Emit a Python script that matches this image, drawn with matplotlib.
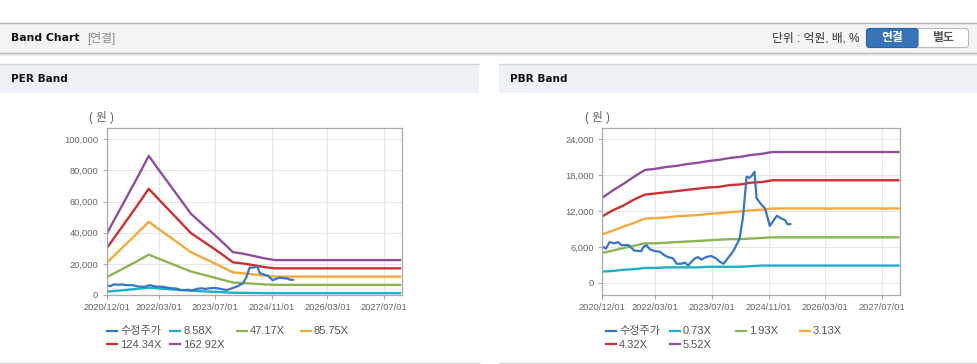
import matplotlib
matplotlib.use('Agg')
import matplotlib.pyplot as plt
import matplotlib.ticker as mticker
from matplotlib.patches import Rectangle, FancyBboxPatch
import numpy as np
import pandas as pd

plt.rcParams['font.family'] = ['Liberation Sans', 'Noto Sans CJK KR']

# ---- data ----
band_dates = ['2020-12-01', '2021-03-01', '2021-06-01', '2021-09-01', '2021-12-01',
              '2022-03-01', '2022-06-01', '2022-09-01', '2022-12-01', '2023-03-01',
              '2023-06-01', '2023-09-01', '2023-12-01', '2024-03-01', '2024-06-01',
              '2024-09-01', '2024-12-01', '2027-12-01']

per_labels = ['수정주가', '8.58X', '47.17X', '85.75X', '124.34X', '162.92X']
per_858 = [2100, 2700, 3400, 4000, 4700, 4200, 3700, 3200, 2800, 2400, 2100, 1800,
           1400, 1400, 1300, 1200, 1200, 1200]
per_4717 = [11400, 14900, 18500, 22100, 25900, 23200, 20500, 17800, 15100, 13400, 11600,
            9800, 8000, 7700, 7200, 6800, 6500, 6500]
per_8575 = [20700, 27100, 33700, 40300, 47000, 42100, 37300, 32400, 27500, 24300, 21200,
            17900, 14500, 13900, 13200, 12400, 11800, 11800]
per_12434 = [30000, 39300, 48800, 58400, 68200, 61100, 54000, 46900, 39800, 35300, 30700,
             25900, 21000, 20200, 19100, 17900, 17100, 17100]
per_16292 = [39300, 51500, 64000, 76500, 89300, 80000, 70800, 61500, 52200, 46200, 40200,
             34000, 27500, 26500, 25000, 23500, 22400, 22400]

pbr_labels = ['수정주가', '0.73X', '1.93X', '3.13X', '4.32X', '5.52X']
pbr_073 = [1900, 2000, 2200, 2300, 2500, 2500, 2600, 2600, 2600, 2600, 2700, 2700,
           2700, 2700, 2800, 2900, 2900, 2900]
pbr_193 = [5000, 5400, 5800, 6200, 6600, 6600, 6700, 6800, 6900, 7000, 7100, 7200,
           7300, 7300, 7400, 7500, 7600, 7600]
pbr_313 = [8100, 8700, 9400, 10000, 10700, 10800, 10900, 11100, 11200, 11300, 11500,
           11600, 11800, 11900, 12100, 12200, 12400, 12400]
pbr_432 = [11100, 12100, 12900, 13900, 14700, 14900, 15100, 15300, 15500, 15700, 15900,
           16000, 16300, 16400, 16700, 16800, 17100, 17100]
pbr_552 = [14200, 15400, 16500, 17700, 18800, 19000, 19300, 19500, 19800, 20000, 20300,
           20500, 20800, 21000, 21300, 21500, 21800, 21800]

price_dates = ['2020-12-01', '2021-01-01', '2021-02-01', '2021-03-15', '2021-04-15',
               '2021-05-15', '2021-07-15', '2021-09-01', '2021-11-01', '2021-11-20',
               '2021-12-15', '2022-01-15', '2022-03-01', '2022-04-10', '2022-05-20',
               '2022-06-20', '2022-08-01', '2022-09-01', '2022-10-10', '2022-11-10',
               '2022-12-10', '2023-01-05', '2023-02-05', '2023-03-05', '2023-04-01',
               '2023-05-10', '2023-06-25', '2023-08-05', '2023-09-10', '2023-10-10',
               '2023-11-15', '2024-01-01', '2024-02-10', '2024-02-25', '2024-03-25',
               '2024-04-25', '2024-05-20', '2024-06-15', '2024-07-01', '2024-07-20',
               '2024-09-01', '2024-10-01', '2024-11-10', '2025-01-10', '2025-02-20',
               '2025-03-20', '2025-04-10', '2025-05-05']
price = [6100, 5700, 6800, 6600, 6800, 6300, 6300, 5400, 5300, 6000, 6300, 5600, 5300,
         5200, 4600, 4300, 4100, 3200, 3200, 3400, 2900, 3500, 4100, 4300, 3900, 4300,
         4500, 4100, 3500, 3200, 4100, 5300, 6800, 7400, 11000, 17700, 17500, 18000,
         18500, 14100, 13000, 12400, 9500, 11200, 10700, 10500, 9800, 9800]

tick_dates = ['2020-12-01', '2022-03-01', '2023-07-01', '2024-11-01', '2026-03-01', '2027-07-01']
colors = ['#3a74c4', '#1eb0c6', '#8db452', '#f3a93c', '#cc3030', '#8e4f9b']

W, H = 978, 364
fig = plt.figure(figsize=(W / 100, H / 100), dpi=100)

# page background drawn in pixel coords
bg = fig.add_axes([0, 0, 1, 1], zorder=0)
bg.set_xlim(0, W)
bg.set_ylim(H, 0)
bg.axis('off')

bg.add_patch(Rectangle((0, 22), W, 31, fc='#f4f4f4', ec='none'))
bg.plot([0, W], [22.5, 22.5], color='#b4b4b4', lw=1)
bg.plot([0, W], [53, 53], color='#b8b8b8', lw=1)
bg.plot([0, W], [54, 54], color='#dcdcdc', lw=1)
bg.plot([0, W], [55, 55], color='#efefef', lw=1)
bg.text(11, 38, 'Band Chart', fontsize=7.8, fontweight='bold', color='#111',
        family=['DejaVu Sans', 'Noto Sans CJK KR'], va='center')
bg.text(87, 38.5, '[연결]', fontsize=8.5, color='#8a8a8a', va='center')
bg.text(859, 38.5, '단위 : 억원, 배, %', fontsize=8.5, color='#333', va='center', ha='right')
bg.add_patch(FancyBboxPatch((866.5, 28.5), 102, 19, boxstyle='round,pad=0,rounding_size=3',
                            fc='white', ec='#b9b9b9', lw=0.8))
bg.add_patch(FancyBboxPatch((866.5, 28.5), 51.5, 19, boxstyle='round,pad=0,rounding_size=3',
                            fc='#3574b8', ec='#2b62a0', lw=0.8))
bg.text(892, 38.5, '연결', fontsize=8.5, fontweight='bold', color='white', va='center', ha='center')
bg.text(943, 38.5, '별도', fontsize=8.5, fontweight='bold', color='#555', va='center', ha='center')

for x0, title in [(0, 'PER Band'), (499, 'PBR Band')]:
    bg.add_patch(Rectangle((x0, 64), 479, 29, fc='#eef1f6', ec='none'))
    bg.plot([x0, x0 + 479], [64, 64], color='#d6d6d6', lw=1)
    bg.plot([x0, x0 + 479], [362.5, 362.5], color='#d6d6d6', lw=1)
    bg.text(x0 + 11, 79, title, fontsize=7.6, fontweight='bold', color='#111',
            family=['DejaVu Sans'], va='center')


def band_chart(x0, x1, bands, labels, ylim, yticks, leg_x, unit_x):
    ax = fig.add_axes([x0 / W, (H - 295) / H, (x1 - x0) / W, (295 - 128.3) / H], zorder=1)
    ax.set_facecolor('white')
    bd = pd.to_datetime(band_dates)
    for vals, c in zip(bands, colors[1:]):
        ax.plot(bd, vals, color=c, lw=1.7, solid_capstyle='butt')
    ax.plot(pd.to_datetime(price_dates), price, color=colors[0], lw=1.6)
    ax.set_xlim(pd.Timestamp('2020-12-01'), pd.Timestamp('2027-12-05'))
    ax.set_ylim(*ylim)
    ax.set_yticks(yticks)
    ax.yaxis.set_major_formatter(mticker.FuncFormatter(lambda v, p: '{:,.0f}'.format(v)))
    ax.set_xticks(pd.to_datetime(tick_dates))
    ax.set_xticklabels([d.replace('-', '/') for d in tick_dates])
    ax.grid(True, color='#e6e6e6', lw=0.8)
    ax.set_axisbelow(True)
    for s in ax.spines.values():
        s.set_color('#ababab')
        s.set_linewidth(0.9)
    ax.tick_params(length=3, color='#ababab', labelcolor='#666', labelsize=6.7, pad=3)
    bg.text(unit_x, 118, '( 원 )', fontsize=8.3, color='#666', va='center', ha='center')
    # legend, two rows
    for i, (lab, c) in enumerate(zip(labels, colors)):
        row, col = divmod(i, 4)
        lx = leg_x[col]
        ly = 330.5 + row * 13.5
        bg.plot([lx, lx + 10], [ly, ly], color=c, lw=1.6)
        bg.text(lx + 13, ly + 0.5, lab, fontsize=8, color='#555', va='center', ha='left')
    return ax


band_chart(106.7, 401.7, [per_858, per_4717, per_8575, per_12434, per_16292], per_labels,
           (0, 107000), [0, 20000, 40000, 60000, 80000, 100000], [107, 170, 237, 300.7], 101.5)
band_chart(602.3, 900, [pbr_073, pbr_193, pbr_313, pbr_432, pbr_552], pbr_labels,
           (-2000, 25750), [0, 6000, 12000, 18000, 24000], [606, 670, 735.7, 800], 597)

fig.savefig('out.png', dpi=100)
